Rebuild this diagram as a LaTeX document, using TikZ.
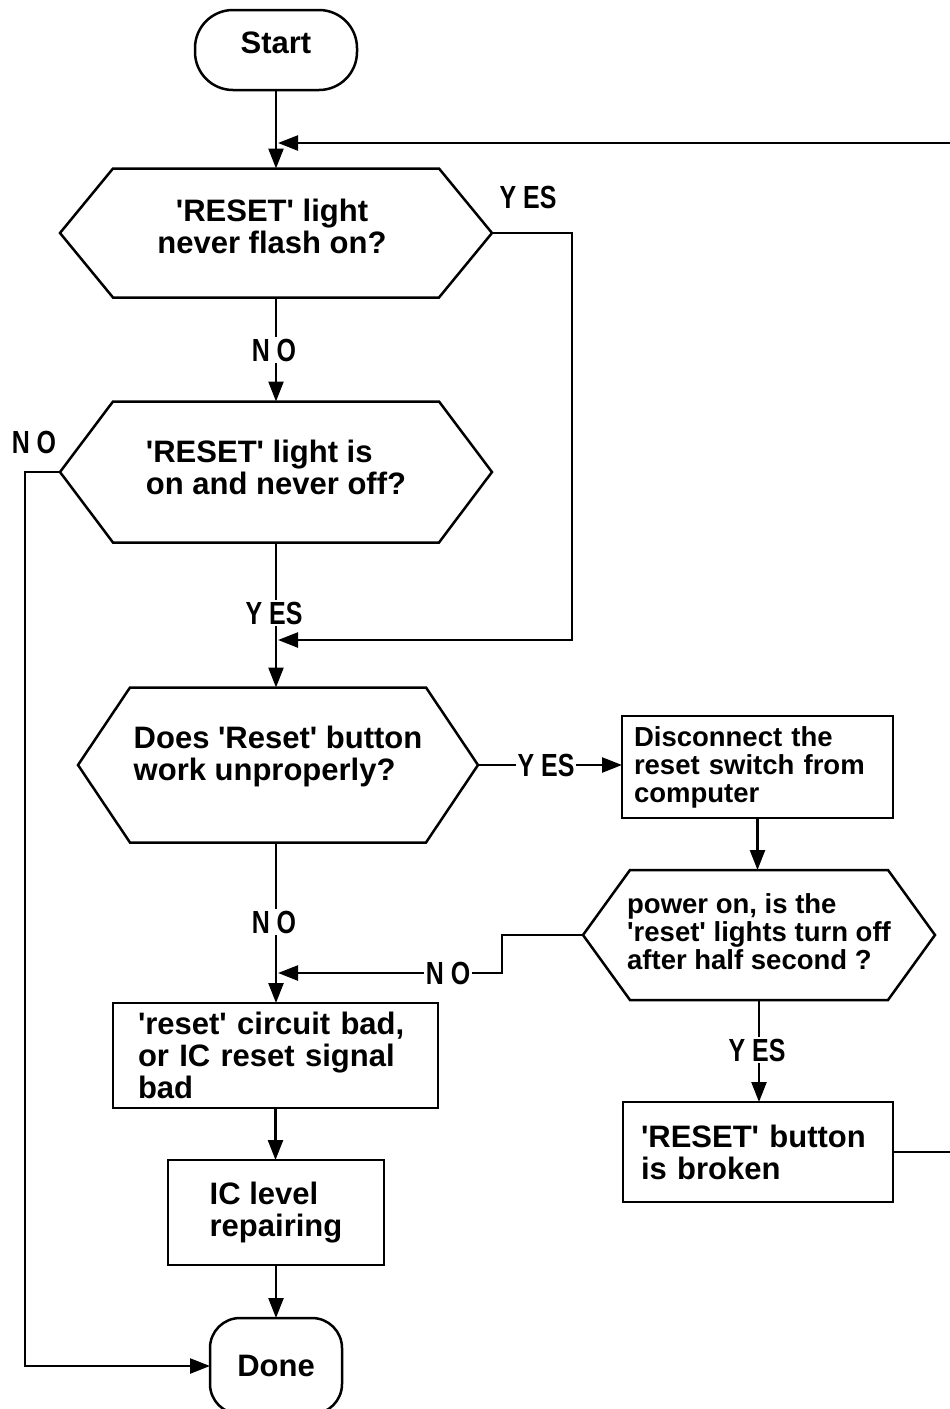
\documentclass[tikz,border=0pt]{standalone}
\usepackage{fontspec}
\setmainfont{Liberation Sans}
\newfontfamily\lblfont[FakeStretch=0.78]{Liberation Sans}
\usetikzlibrary{arrows.meta}

% main text sizes
\newcommand\bigtxt{\bfseries\fontsize{31}{32}\selectfont}
\newcommand\smalltxt{\bfseries\fontsize{27.5}{28}\selectfont}
% straight apostrophe
\newcommand\sq{\textquotesingle}

% hexagonal decision outline drawn round an invisible node
\newcommand\hexoutline[2]{%
  \draw[outline] (#1.west) -- ([xshift=#2]#1.north west) -- ([xshift=-#2]#1.north east)
    -- (#1.east) -- ([xshift=-#2]#1.south east) -- ([xshift=#2]#1.south west) -- cycle;}

\tikzset{
  outline/.style={line width=2.5pt, line join=miter},
  terminal/.style={draw, line width=2.5pt, rounded corners=#1, inner sep=0pt, outer sep=0pt, font=\bigtxt},
  decision/.style={inner sep=0pt, outer sep=0pt},
  caption/.style={font=\bigtxt, inner sep=0pt},
  proc/.style={draw, line width=2.5pt, inner sep=0pt, outer sep=0pt, align=left},
  arr/.style={line width=2.4pt, -{Triangle[length=20pt,width=15pt]}},
  lbl/.style={font=\lblfont\bfseries\fontsize{32}{32}\selectfont, inner sep=2pt},
  onl/.style={lbl, fill=white},
}

\begin{document}
\begin{tikzpicture}[x=1pt, y=-1pt]
\useasboundingbox (0,0) rectangle (950,1409);
\clip (0,0) rectangle (950,1409);

% terminals
\node[terminal=38pt, minimum width=162pt, minimum height=80pt,
      label={[caption, yshift=7pt]center:Start}] (start) at (276,50) {};
\node[terminal=30pt, minimum width=132pt, minimum height=96pt] (done) at (276,1366) {Done};

% decisions
\node[decision, minimum width=432pt, minimum height=129pt,
      label={[caption, align=center, xshift=-4pt, yshift=7pt]center:{\sq{}RESET\sq{} light\\never flash on?}}] (h1) at (276,233) {};
\hexoutline{h1}{53pt}
\node[decision, minimum width=432pt, minimum height=141pt,
      label={[caption, align=left, yshift=5pt]center:{\sq{}RESET\sq{} light is\\on and never off?}}] (h2) at (276,472) {};
\hexoutline{h2}{53pt}
\node[decision, minimum width=400pt, minimum height=155pt,
      label={[caption, align=left, yshift=9pt]center:{Does \sq{}Reset\sq{} button\\work unproperly?}}] (h3) at (278,765) {};
\hexoutline{h3}{52pt}
\node[decision, minimum width=352pt, minimum height=130pt,
      label={[caption, font=\smalltxt, align=left, yshift=3pt]center:{power on, is the\\\sq{}reset\sq{} lights turn off\\after half second ?}}] (h4) at (759,935) {};
\hexoutline{h4}{47pt}

% process boxes
\node[proc, font=\smalltxt, text width=247pt, inner xsep=12pt, minimum height=102pt] (b1) at (757.5,767)
  {Disconnect the\\reset switch from\\computer};
\node[proc, font=\bigtxt, text width=275pt, inner xsep=25pt, minimum height=105pt] (b2) at (275.5,1055.5)
  {\sq{}reset\sq{} circuit bad,\\or IC reset signal\\bad};
\node[proc, font=\bigtxt, text width=234pt, inner xsep=18pt, minimum height=100pt] (b3) at (758,1152)
  {\sq{}RESET\sq{} button\\is broken};
\node[proc, font=\bigtxt, minimum width=216pt, minimum height=105pt] (b4) at (276,1212.5)
  {IC level\\repairing};

% merge points on the main column
\coordinate (m1) at (278,143);
\coordinate (m2) at (278,640);
\coordinate (m3) at (278,973);

% main column
\draw[arr] (start.south) -- (h1.north);
\draw[arr] (h1.south) -- (h2.north);
\draw[arr] (h2.south) -- (h2.south |- h3.north);
\draw[arr] (h2.south |- h3.south) -- (h2.south |- b2.north);
\draw[arr] (b2.south) -- (b2.south |- b4.north);
\draw[arr] (b4.south) -- (done.north);

% side branches
\draw[arr] (h1.east) -- ++(80,0) |- (m2);
\draw[arr] (h2.west) -- ++(-35,0) |- (done.west);
\draw[arr] (h3.east) -- (h3.east -| b1.west);
\draw[arr] (b1.south) -- (b1.south |- h4.north);
\draw[arr] (h4.west) -- ++(-81,0) |- (m3);
\draw[arr] (h4.south) -- (h4.south |- b3.north);
\draw[arr] (b3.east) -- ++(100,0) |- (m1);

% branch labels
\node[lbl] (y1) at (528,197) {Y ES};
\node[onl] (n1) at (274,350) {N O};
\node[lbl] (n2) at (34,442) {N O};
\node[onl] (y2) at (274,613) {Y ES};
\node[onl] (y3) at (546,765) {Y ES};
\node[onl] (n3) at (274,922) {N O};
\node[onl] (n4) at (448,973) {N O};
\node[onl] (y4) at (757,1050) {Y ES};
\end{tikzpicture}
\end{document}
